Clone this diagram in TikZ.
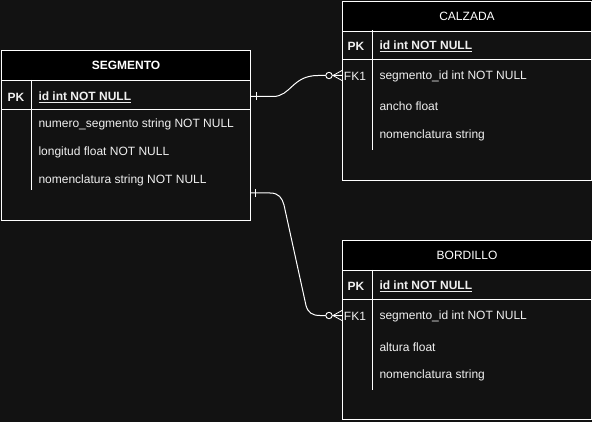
\documentclass[tikz,border=0pt]{standalone}
\usepackage{fontspec}
\setmainfont{Liberation Sans}
\usetikzlibrary{calc}
\definecolor{bg}{RGB}{18,18,18}
\definecolor{txt}{RGB}{240,240,240}
\begin{document}
\begin{tikzpicture}[x=1pt,y=-1pt,line width=1pt,
  tbl/.style={draw=white,fill=bg,anchor=north west,inner sep=0pt},
  ttl/.style={draw=white,fill=black,anchor=north west,inner sep=0pt,minimum height=30pt,text=white,font=\fontsize{12}{14}\selectfont,text depth=-1pt},
  rowbox/.style={draw=none,anchor=north west,inner sep=0pt,minimum height=30pt},
  lbl/.style={text=txt,font=\fontsize{12}{14}\selectfont,inner sep=0pt,anchor=west,yshift=-1pt},
  keylbl/.style={text=txt,font=\fontsize{12}{14}\selectfont,inner sep=0pt,yshift=-1pt},
  sep/.style={draw=white},
  conn/.style={draw=white,line width=1pt},
  circ/.style={draw=white,fill=bg,line width=0.9pt}]
\useasboundingbox[fill=bg] (0,0) rectangle (592,422);

% ---------------- SEGMENTO ----------------
\node[tbl,minimum width=249pt,minimum height=170pt] (seg) at (1,50) {};
\node[ttl,minimum width=249pt,font=\fontsize{12}{14}\selectfont\bfseries] (segt) at (1,50) {SEGMENTO};
\node[rowbox,minimum width=249pt] (segpk) at (1,81) {};
\draw[sep] (1,110) -- (250,110);
\draw[sep] (31,80) -- (31,190);
\node[keylbl,font=\fontsize{12}{14}\selectfont\bfseries] (segpkk) at (16,96) {PK};
\node[lbl,font=\fontsize{12}{14}\selectfont\bfseries] (segid) at (38,96) {\underline{id int NOT NULL}};
\node[lbl] (segnum) at (38,123) {numero\_segmento string NOT NULL};
\node[lbl] (seglon) at (38,151) {longitud float NOT NULL};
\node[lbl] (segnom) at (38,179) {nomenclatura string NOT NULL};
\coordinate (segout) at (250,193);

% ---------------- CALZADA ----------------
\node[tbl,minimum width=249pt,minimum height=179pt] (cal) at (342,1) {};
\node[ttl,minimum width=249pt] (calt) at (342,1) {CALZADA};
\draw[sep] (342,60) -- (591,60);
\draw[sep] (372,30) -- (372,150);
\node[rowbox,minimum width=249pt] (calfk) at (342,60) {};
\node[keylbl,font=\fontsize{12}{14}\selectfont\bfseries] (calpkk) at (356,45) {PK};
\node[lbl,font=\fontsize{12}{14}\selectfont\bfseries] (calid) at (379,45) {\underline{id int NOT NULL}};
\node[keylbl] (calfkk) at (355,75) {FK1};
\node[lbl] (calseg) at (379,75) {segmento\_id int NOT NULL};
\node[lbl] (calanc) at (379,105) {ancho float};
\node[lbl] (calnom) at (379,134) {nomenclatura string};

% ---------------- BORDILLO ----------------
\node[tbl,minimum width=249pt,minimum height=179pt] (bor) at (342,240) {};
\node[ttl,minimum width=249pt] (bort) at (342,240) {BORDILLO};
\draw[sep] (342,300) -- (591,300);
\draw[sep] (372,270) -- (372,390);
\node[rowbox,minimum width=249pt] (borfk) at (342,300) {};
\node[keylbl,font=\fontsize{12}{14}\selectfont\bfseries] (borpkk) at (356,285) {PK};
\node[lbl,font=\fontsize{12}{14}\selectfont\bfseries] (borid) at (379,285) {\underline{id int NOT NULL}};
\node[keylbl] (borfkk) at (355,315) {FK1};
\node[lbl] (borseg) at (379,315) {segmento\_id int NOT NULL};
\node[lbl] (boralt) at (379,346) {altura float};
\node[lbl] (bornom) at (379,374) {nomenclatura string};

% ---------------- connectors ----------------
\coordinate (a0) at ($(segpk.east)+(0,0)$);
\draw[conn] (a0) -- ($(a0)+(22,0)$)
  .. controls ($(a0)+(40,0)$) and ($(calfk.west)+(-50,0)$) .. ($(calfk.west)+(-24,0)$)
  -- (calfk.west);
\draw[conn] ($(a0)+(5,-4)$) -- ($(a0)+(5,4)$);
\draw[circ] ($(calfk.west)+(-13,0)$) circle (3.2pt);
\draw[conn,line width=0.8pt] ($(calfk.west)+(-9,0)$) -- ($(calfk.west)+(0,-5)$)
  ($(calfk.west)+(-9,0)$) -- ($(calfk.west)+(0,5)$);

\draw[conn] (segout) -- ($(segout)+(20,0)$)
  .. controls ($(segout)+(29,0)$) and ($(segout)+(32,5)$) .. ($(segout)+(34,12)$)
  -- ($(borfk.west)+(-36,-10)$)
  .. controls ($(borfk.west)+(-34,-3)$) and ($(borfk.west)+(-30,0)$) .. ($(borfk.west)+(-22,0)$)
  -- (borfk.west);
\draw[conn] ($(segout)+(5,-4)$) -- ($(segout)+(5,4)$);
\draw[circ] ($(borfk.west)+(-13,0)$) circle (3.2pt);
\draw[conn,line width=0.8pt] ($(borfk.west)+(-9,0)$) -- ($(borfk.west)+(0,-5)$)
  ($(borfk.west)+(-9,0)$) -- ($(borfk.west)+(0,5)$);
\end{tikzpicture}
\end{document}
